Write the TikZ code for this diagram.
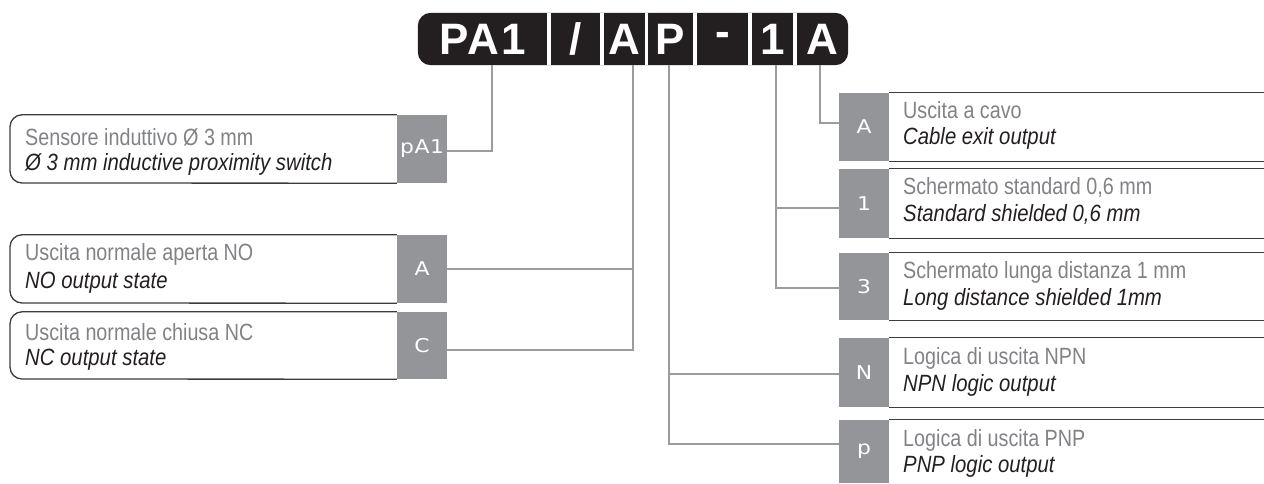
\documentclass[tikz,border=0pt]{standalone}
\usepackage{fontspec}
\usetikzlibrary{backgrounds}
\setmainfont{Liberation Sans}
\newfontfamily\barfont{Liberation Sans}[LetterSpace=5]
\newfontfamily\grfont{Liberation Sans}[FakeStretch=0.84]
\newfontfamily\itfont{Liberation Sans}[FakeStretch=0.865]
\newfontfamily\tagfont{DejaVu Sans}[FakeStretch=1.15,LetterSpace=3]
\definecolor{barblack}{HTML}{231F20}
\definecolor{taggray}{HTML}{939598}
\definecolor{linegray}{HTML}{9A9C9F}
\definecolor{bordergray}{HTML}{3C3C3C}
\definecolor{textgray}{HTML}{808285}
\definecolor{textblack}{HTML}{231F20}
\begin{document}
\begin{tikzpicture}[x=1pt,y=-1pt,
  conn/.style={draw=linegray,line width=2pt},
  border/.style={draw=bordergray,line width=1.3pt},
  tagbox/.style={fill=taggray,minimum width=50pt,inner sep=0pt,text=white,font=\tagfont\fontsize{19}{19}\selectfont},
  grline/.style={anchor=base west,inner sep=0pt,text=textgray,font=\grfont\fontsize{23.5}{23.5}\selectfont},
  itline/.style={anchor=base west,inner sep=0pt,text=textblack,font=\itfont\itshape\fontsize{23.5}{23.5}\selectfont},
  barseg/.style={minimum height=52pt,inner sep=0pt,text=white,font=\barfont\bfseries\fontsize{44}{44}\selectfont}]
\useasboundingbox (0,0) rectangle (1264,483);

% code bar
\node[barseg,minimum width=129pt] (s1) at (482.5,39) {PA1};
\node[barseg,minimum width=49pt] (s2) at (575.5,39) {/};
\node[barseg,minimum width=41pt] (s3) at (624.5,39) {A};
\node[barseg,minimum width=45pt] (s4) at (670.5,39) {P};
\node[barseg,minimum width=51pt] (s5) at (722.5,39) {-};
\node[barseg,minimum width=41pt] (s6) at (772.5,39) {1};
\node[barseg,minimum width=51pt] (s7) at (822.5,39) {A};
\begin{scope}[on background layer]
  \fill[barblack,rounded corners=13pt] (s1.north west) rectangle (s7.south east);
  \fill[white] (s1.north east) rectangle (s2.south west);
  \fill[white] (s2.north east) rectangle (s3.south west);
  \fill[white] (s3.north east) rectangle (s4.south west);
  \fill[white] (s4.north east) rectangle (s5.south west);
  \fill[white] (s5.north east) rectangle (s6.south west);
  \fill[white] (s6.north east) rectangle (s7.south west);
\end{scope}

% left tags
\node[tagbox,minimum height=68pt] (tPA) at (422,149) {pA1};
\node[tagbox,minimum height=68pt] (tA) at (422,269) {A};
\node[tagbox,minimum height=67pt] (tC) at (422,345.5) {C};
% left boxes
\draw[border,rounded corners=12pt] (tPA.north west) -| (10,183) -- (tPA.south west);
\draw[border,rounded corners=12pt] (tA.north west) -| (10,303) -- (tA.south west);
\draw[border,rounded corners=12pt] (tC.north west) -| (10,379) -- (tC.south west);
\node[grline] (l1a) at (25,145) {Sensore induttivo Ø 3 mm};
\node[itline] (l1b) at (25,170) {Ø 3 mm inductive proximity switch};
\node[grline] (l2a) at (25,260) {Uscita normale aperta NO};
\node[itline] (l2b) at (25,288) {NO output state};
\node[grline] (l3a) at (25,340) {Uscita normale chiusa NC};
\node[itline] (l3b) at (25,365) {NC output state};

% right tags
\node[tagbox,minimum height=68pt] (tR1) at (864,127) {A};
\node[tagbox,minimum height=69pt] (tR2) at (864,203.5) {1};
\node[tagbox,minimum height=67pt] (tR3) at (864,286.5) {3};
\node[tagbox,minimum height=69pt] (tR4) at (864,372.5) {N};
\node[tagbox,minimum height=63pt] (tR5) at (864,451.5) {p};
% right box lines
\draw[border] (tR1.north east) -- ++(375,0);
\draw[border] (tR1.south east) -- ++(375,0);
\draw[border] (tR2.north east) -- ++(375,0);
\draw[border] (tR2.south east) -- ++(375,0);
\draw[border] (tR3.north east) -- ++(375,0);
\draw[border] (tR3.south east) -- ++(375,0);
\draw[border] (tR4.north east) -- ++(375,0);
\draw[border] (tR4.south east) -- ++(375,0);
\draw[border] (tR5.north east) -- ++(375,0);
\node[grline] (r1a) at (903,118) {Uscita a cavo};
\node[itline] (r1b) at (903,144) {Cable exit output};
\node[grline] (r2a) at (903,194) {Schermato standard 0,6 mm};
\node[itline] (r2b) at (903,221) {Standard shielded 0,6 mm};
\node[grline] (r3a) at (903,278) {Schermato lunga distanza 1 mm};
\node[itline] (r3b) at (903,305) {Long distance shielded 1mm};
\node[grline] (r4a) at (903,364) {Logica di uscita NPN};
\node[itline] (r4b) at (903,391) {NPN logic output};
\node[grline] (r5a) at (903,446) {Logica di uscita PNP};
\node[itline] (r5b) at (903,472) {PNP logic output};

% connectors
\draw[conn] ([xshift=9.5pt]s1.south) |- ([yshift=-2pt]tPA.east);
\draw[conn] ([xshift=8.5pt]s3.south) |- (tA.east);
\draw[conn] ([xshift=8.5pt]s3.south) |- ([yshift=-4.5pt]tC.east);
\draw[conn] ([xshift=-1.5pt]s4.south) |- ([yshift=-1.5pt]tR4.west);
\draw[conn] ([xshift=-1.5pt]s4.south) |- ([yshift=7.5pt]tR5.west);
\draw[conn] ([xshift=3.5pt]s6.south) |- ([yshift=-4.5pt]tR2.west);
\draw[conn] ([xshift=3.5pt]s6.south) |- ([yshift=-1.5pt]tR3.west);
\draw[conn] ([xshift=-2.5pt]s7.south) |- ([yshift=4pt]tR1.west);
\end{tikzpicture}
\end{document}
